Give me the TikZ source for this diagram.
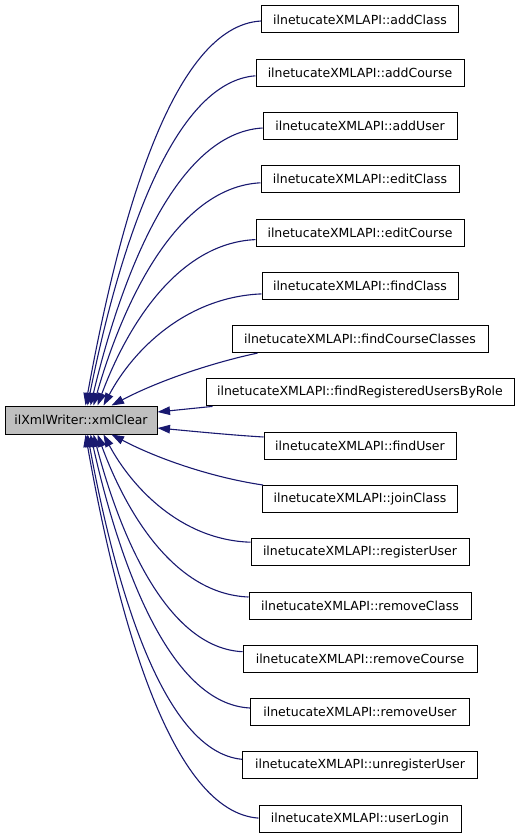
\documentclass[tikz,border=0pt]{standalone}
\usepackage{fontspec}
\setmainfont{DejaVu Sans}
\usetikzlibrary{arrows.meta}
\definecolor{edgeblue}{RGB}{25,25,112}
\definecolor{srcgray}{RGB}{191,191,191}
\tikzset{
  fnbox/.style={draw=black, line width=1pt, fill=white, inner sep=0pt, minimum height=27pt,
    font=\fontsize{12.5}{15}\selectfont},
  srcbox/.style={fnbox, fill=srcgray, minimum height=28pt},
  edge/.style={draw=edgeblue, line width=1.1pt, -{Triangle[length=12.5pt,width=8.5pt]}, fill=none},
}
\begin{document}
\begin{tikzpicture}[x=1pt,y=-1pt]
\useasboundingbox (0,0) rectangle (520,840);
\node[srcbox, minimum width=152pt] (src) at (81,420) {ilXmlWriter::xmlClear};
\node[fnbox, minimum width=197pt] (n0) at (360,19.5) {ilnetucateXMLAPI::addClass};
\node[fnbox, minimum width=208pt] (n1) at (360,72.8) {ilnetucateXMLAPI::addCourse};
\node[fnbox, minimum width=194pt] (n2) at (360,126.0) {ilnetucateXMLAPI::addUser};
\node[fnbox, minimum width=198pt] (n3) at (360,179.3) {ilnetucateXMLAPI::editClass};
\node[fnbox, minimum width=208pt] (n4) at (360,232.6) {ilnetucateXMLAPI::editCourse};
\node[fnbox, minimum width=196pt] (n5) at (360,285.9) {ilnetucateXMLAPI::findClass};
\node[fnbox, minimum width=256pt] (n6) at (360,339.1) {ilnetucateXMLAPI::findCourseClasses};
\node[fnbox, minimum width=308pt] (n7) at (360,392.4) {ilnetucateXMLAPI::findRegisteredUsersByRole};
\node[fnbox, minimum width=192pt] (n8) at (360,445.7) {ilnetucateXMLAPI::findUser};
\node[fnbox, minimum width=195pt] (n9) at (360,499.0) {ilnetucateXMLAPI::joinClass};
\node[fnbox, minimum width=218pt] (n10) at (360,552.2) {ilnetucateXMLAPI::registerUser};
\node[fnbox, minimum width=222pt] (n11) at (360,605.5) {ilnetucateXMLAPI::removeClass};
\node[fnbox, minimum width=234pt] (n12) at (360,658.7) {ilnetucateXMLAPI::removeCourse};
\node[fnbox, minimum width=219pt] (n13) at (360,712.0) {ilnetucateXMLAPI::removeUser};
\node[fnbox, minimum width=235pt] (n14) at (360,765.3) {ilnetucateXMLAPI::unregisterUser};
\node[fnbox, minimum width=202pt] (n15) at (360,818.6) {ilnetucateXMLAPI::userLogin};
% top curves
\draw[edge] ([yshift=-1.5pt]n0.west) .. controls (172,26) and (119,221) .. ([xshift=81pt]src.north west);
\draw[edge] ([yshift=-3pt]n1.west) .. controls (172,82) and (119,248) .. ([xshift=83pt]src.north west);
\draw[edge] ([yshift=-2pt]n2.west) .. controls (177,133) and (122,273) .. ([xshift=86pt]src.north west);
\draw[edge] ([yshift=-3.5pt]n3.west) .. controls (178,187) and (124,299) .. ([xshift=89pt]src.north west);
\draw[edge] ([yshift=-7pt]n4.west) .. controls (178,243) and (127,326) .. ([xshift=93pt]src.north west);
\draw[edge] ([yshift=-8pt]n5.west) .. controls (186,297) and (133,350) .. ([xshift=99pt]src.north west);
\draw[edge] ([xshift=26pt]n6.south west) .. controls (215,362) and (160,380) .. ([xshift=107pt]src.north west);
% side lines
\draw[edge] ([xshift=7pt]n7.south west) -- ([yshift=8pt]src.east);
\draw[edge] ([yshift=8.7pt]n8.west) .. controls (230,435) and (190,431) .. ([yshift=-8pt]src.east);
% bottom curves
\draw[edge] ([xshift=1pt]n9.north west) .. controls (215,478) and (160,460) .. ([xshift=107pt]src.south west);
\draw[edge] ([yshift=10pt]n10.west) .. controls (180,540) and (131,486) .. ([xshift=99pt]src.south west);
\draw[edge] ([yshift=8.5pt]n11.west) .. controls (174,594) and (126,512) .. ([xshift=93pt]src.south west);
\draw[edge] ([yshift=7pt]n12.west) .. controls (168,648) and (121,539) .. ([xshift=89pt]src.south west);
\draw[edge] ([yshift=4pt]n13.west) .. controls (170,704) and (120,566) .. ([xshift=86pt]src.south west);
\draw[edge] ([yshift=6pt]n14.west) .. controls (164,752) and (116,590) .. ([xshift=83pt]src.south west);
\draw[edge] ([yshift=0.5pt]n15.west) .. controls (171,812) and (118,618) .. ([xshift=81pt]src.south west);
\end{tikzpicture}
\end{document}
